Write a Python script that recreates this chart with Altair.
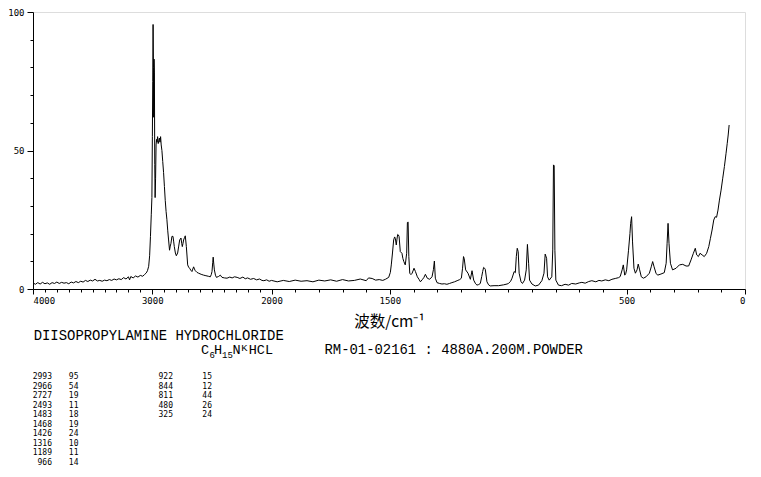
import altair as alt
import pandas as pd

# ---------------- spectrum ----------------
wavenumber = [
    4000, 3980, 3960, 3940, 3920, 3900, 3880, 3860, 3840, 3820, 3800, 3780, 3760, 3740, 3720, 3700,
    3680, 3660, 3640, 3620, 3600, 3580, 3560, 3540, 3520, 3500, 3480, 3460, 3440, 3420, 3400, 3380,
    3360, 3340, 3320, 3300, 3280, 3260, 3240, 3220, 3200, 3190, 3180, 3160, 3140, 3120, 3100, 3080,
    3065, 3050, 3040, 3030, 3022, 3015, 3008, 3003, 2999, 2996, 2993, 2990, 2988, 2985, 2982, 2979,
    2976, 2972, 2968, 2964, 2960, 2955, 2950, 2945, 2940, 2935, 2930, 2925, 2919, 2912, 2905, 2898,
    2891, 2884, 2877, 2870, 2863, 2855, 2849, 2843, 2835, 2826, 2820, 2815, 2806, 2798, 2787, 2778,
    2770, 2759, 2753, 2748, 2742, 2737, 2730, 2723, 2714, 2703, 2695, 2687, 2677, 2667, 2660, 2653,
    2646, 2639, 2625, 2611, 2590, 2569, 2550, 2530, 2513, 2505, 2499, 2493, 2489, 2484, 2479, 2470,
    2462, 2445, 2429, 2415, 2395, 2373, 2350, 2330, 2310, 2288, 2265, 2240, 2220, 2200, 2176, 2150,
    2125, 2100, 2080, 2064, 2040, 2020, 2000,
    1976, 1950, 1925, 1900, 1875, 1850, 1825, 1800, 1775, 1750, 1725, 1700, 1675, 1650, 1625, 1600,
    1590, 1575, 1560, 1545, 1530, 1519,
    1505, 1498, 1494, 1489, 1484, 1480, 1477, 1473, 1470, 1467, 1464, 1461, 1456, 1449, 1445, 1441,
    1435, 1429, 1426, 1423, 1420, 1416, 1411, 1406, 1398, 1392, 1384, 1377, 1371, 1362, 1356, 1350,
    1342, 1332, 1322, 1316, 1312, 1308, 1301, 1290, 1280, 1270, 1259, 1248, 1238, 1227, 1216, 1205,
    1198, 1193, 1189, 1186, 1180, 1170, 1160, 1153, 1146, 1138, 1132, 1125, 1118, 1112, 1108, 1104,
    1100, 1097, 1090, 1083, 1076, 1060, 1041, 1020, 1005,
    999, 990, 984, 975, 970, 966, 962, 958, 954, 946, 940, 931, 924, 919, 914, 910,
    900, 886, 872, 858, 849, 844, 838, 834, 827, 816, 812, 809, 806, 803, 799, 788,
    775, 760, 745, 732, 715, 700, 689, 675, 660, 647, 630, 617, 605, 590, 575, 562,
    548, 534,
    527, 519, 514, 508, 504, 500, 492, 486, 483, 479, 475, 469, 463, 456, 451, 445,
    438, 429, 418, 404, 396, 390, 384, 376, 369, 355, 341, 333, 329, 325, 321, 315,
    306, 291, 277, 263, 249, 238, 228, 218, 210, 204, 197, 190, 181, 172, 162, 153,
    146, 139, 132, 126, 120, 114, 108, 101, 94, 87, 80, 75, 71, 67,
]
intensity = [
    2.2, 1.7, 2.3, 1.8, 2.4, 1.9, 2.2, 1.7, 2.3, 2.0, 2.5, 2.0, 2.4, 2.1, 2.3, 1.9,
    2.5, 2.2, 2.7, 2.3, 2.8, 2.5, 3.1, 2.7, 3.2, 2.9, 3.5, 2.9, 3.1, 2.8, 3.2, 3.0,
    3.4, 3.1, 3.6, 3.3, 3.7, 3.4, 4.1, 3.6, 4.4, 3.3, 4.5, 4.0, 4.7, 4.3, 4.9, 4.6,
    5.2, 5.8, 6.6, 8.2, 12, 19, 27, 33, 55, 75, 95.5, 80, 62, 83, 78, 45,
    33, 40, 52, 54, 53, 55, 52.5, 53.5, 54.5, 53, 55, 52, 50, 46, 42, 37,
    32, 28, 25, 21, 17.7, 14, 15.5, 16.5, 19, 19, 17, 15.3, 13, 12, 13, 15.5,
    17.7, 18.4, 16.5, 15.3, 16.5, 17.7, 18.5, 19.2, 15.3, 8.7, 7.9, 7.5, 6.8, 6.3, 7.2, 8.0,
    7.2, 6.6, 6.0, 5.7, 5.3, 5.0, 4.8, 4.6, 4.4, 5.2, 6.3, 9.5, 11.5, 9, 6.9, 5,
    4.2, 4.5, 5.0, 4.2, 4.0, 3.9, 4.3, 4.0, 4.4, 4.2, 3.8, 4.3, 3.7, 4.0, 3.5, 3.8,
    3.3, 3.6, 3.1, 3.0, 3.3, 2.8, 3.1,
    2.6, 3.1, 2.7, 3.2, 2.8, 3.0, 2.6, 3.2, 2.9, 3.3, 2.8, 3.4, 2.9, 3.1, 3.6, 3.0,
    4.0, 3.8, 3.2, 3.4, 3.1, 3.5,
    4.2, 6, 8.7, 13, 17.7, 18.8, 18.3, 15.9, 18, 19.7, 19.5, 18.9, 13.5, 12.9, 11, 9.9,
    8.7, 12.9, 24, 24.2, 11.7, 5.7, 5.2, 5.7, 7.5, 6.3, 4.4, 3.5, 2.6, 3.5, 4.2, 5.3,
    3.9, 3.5, 4.4, 7, 10.1, 3.9, 2.3, 2.0, 1.8, 1.9, 1.7, 2.0, 2.3, 2.6, 3.0, 3.4,
    3.9, 7.5, 11.7, 11, 6.9, 5.7, 3.5, 6.6, 3.2, 1.9, 1.4, 1.6, 2, 4.5, 6.3, 7.8,
    7.5, 7.1, 2.6, 1.5, 1.1, 1.2, 1.2, 1.5, 1.8,
    2.0, 2.8, 3.9, 6.3, 5.9, 11.7, 14.7, 13.5, 5.7, 2.6, 2.0, 3.2, 6.9, 16.1, 9.3, 3.2,
    1.8, 1.1, 1.4, 3.0, 5.7, 12.6, 11.1, 4.4, 3.2, 4.4, 14.1, 44.8, 44.5, 14, 3.2, 1.4,
    1.2, 1.7, 1.4, 2.0, 1.8, 2.2, 2.4, 2.1, 2.7, 3.0, 2.6, 3.1, 2.9, 3.3, 3.0, 3.5,
    3.8, 4.1,
    4.5, 6.9, 8.7, 5, 5.5, 6.9, 14, 20, 23.7, 26.1, 17, 7.5, 5.7, 6.9, 9, 6.9,
    4.4, 3.9, 4.4, 5.7, 8, 9.9, 8, 5.7, 5, 5.4, 5.9, 9.3, 16.5, 23.7, 16.5, 9.3,
    6.9, 7.5, 8.7, 8.9, 8.3, 8.3, 10.5, 12.9, 14.7, 12.3, 11.7, 12.9, 12.3, 11.7, 12.9, 15.3,
    18.3, 21.3, 24.9, 26.1, 25.9, 28.5, 32.1, 35.7, 40, 44.2, 49, 52.6, 55.6, 59.2,
]

# ---------------- peak table ----------------
peak_wn = [2993, 2966, 2727, 2493, 1483, 1468, 1426, 1316, 1189, 966,
           922, 844, 811, 480, 325]
peak_int = [95, 54, 19, 11, 18, 19, 24, 10, 11, 14,
            15, 12, 44, 26, 24]

# ---------------- axis ticks / labels ----------------
x_major = [4000, 3000, 2000, 1500, 500, 0]
x_minor = list(range(0, 4001, 100))
y_major = [0, 50, 100]
y_minor = list(range(0, 101, 10))

compound = "DIISOPROPYLAMINE HYDROCHLORIDE"
sample_info = "RM-01-02161 : 4880A.200M.POWDER"
formula_parts = ["C", "6", "H", "15", "NᴷHCL"]
x_title = "波数/cm⁻¹"

W, H = 712, 277
MONO = "DejaVu Sans Mono"
TXT = "Liberation Mono, DejaVu Sans Mono"

spec = pd.DataFrame({"wn": wavenumber, "I": intensity})

x_scale = alt.Scale(domain=[4000, 2000, 0], range=[0, 238.5, W], zero=False, nice=False)
y_scale = alt.Scale(domain=[0, 100], zero=False, nice=False)

xm = "[" + ",".join(str(v) for v in x_major) + "]"
ym = "[" + ",".join(str(v) for v in y_major) + "]"

line = alt.Chart(spec).mark_line(color="black", strokeWidth=1).encode(
    x=alt.X(
        "wn:Q", scale=x_scale,
        axis=alt.Axis(
            values=x_minor, format="d", labelOverlap=False,
            labelExpr=f"indexof({xm}, datum.value) >= 0 ? datum.label : ''",
            tickSize={"condition": {"test": f"indexof({xm}, datum.value) >= 0", "value": 5}, "value": 3},
            title=x_title, titleFont="Noto Sans CJK SC", titleFontSize=15.5,
            titleFontWeight="normal", titleColor="black", titlePadding=9,
            labelFont=MONO, labelFontSize=9, labelColor="black", labelPadding=2,
            domainColor="black", tickColor="black", grid=False,
        ),
    ),
    y=alt.Y(
        "I:Q", scale=y_scale,
        axis=alt.Axis(
            values=y_minor, labelOverlap=False,
            labelExpr=f"indexof({ym}, datum.value) >= 0 ? datum.label : ''",
            tickSize={"condition": {"test": f"indexof({ym}, datum.value) >= 0", "value": 6}, "value": 3},
            title=None, labelFont=MONO, labelFontSize=9, labelColor="black", labelPadding=3,
            domainColor="black", tickColor="black", grid=False,
        ),
    ),
)

layers = [line]


def text_layer(txt, x, y, size, font=MONO, align="left", baseline="middle"):
    df = pd.DataFrame({"t": [txt]})
    return alt.Chart(df).mark_text(
        font=font, fontSize=size, align=align, baseline=baseline, color="black"
    ).encode(text="t:N", x=alt.value(x), y=alt.value(y))


# plot origin is at page (33, 12)
layers.append(text_layer(compound, 0.7, 324, 13.9, font=TXT))
layers.append(text_layer(sample_info, 291.5, 338, 13.9, font=TXT))

# formula with subscripts
fpos = [(168, 338, 13.5), (176.5, 343, 9), (181, 338, 13.5), (189, 343, 9),
        (199.5, 338, 13.5)]
for part, (px, py, fs) in zip(formula_parts, fpos):
    layers.append(text_layer(part, px, py, fs, font=TXT))

# peak table (two columns of pairs)
tbl1 = pd.DataFrame({"row": list(range(10)), "wn": [str(v) for v in peak_wn[:10]],
                     "inten": [str(v) for v in peak_int[:10]]})
tbl2 = pd.DataFrame({"row": list(range(5)), "wn": [str(v) for v in peak_wn[10:]],
                     "inten": [str(v) for v in peak_int[10:]]})
row_scale = alt.Scale(domain=[0, 9], range=[365, 451])

for df, xw, xi in [(tbl1, 19, 45.5), (tbl2, 140, 179)]:
    for field, xr in [("wn", xw), ("inten", xi)]:
        layers.append(
            alt.Chart(df).mark_text(font=MONO, fontSize=8, align="right", baseline="middle",
                                    color="black")
            .encode(text=f"{field}:N", x=alt.value(xr),
                    y=alt.Y("row:Q", scale=row_scale, axis=None))
        )

chart = alt.layer(*layers).resolve_scale(y="independent").properties(
    width=W, height=H,
    autosize=alt.AutoSizeParams(type="none"),
    padding={"left": 25, "top": 4, "right": 8, "bottom": 182},
).configure_view(stroke="black", strokeWidth=1).configure(background="white")

chart.save("out.html", embed_options={"renderer": "svg", "actions": False})
